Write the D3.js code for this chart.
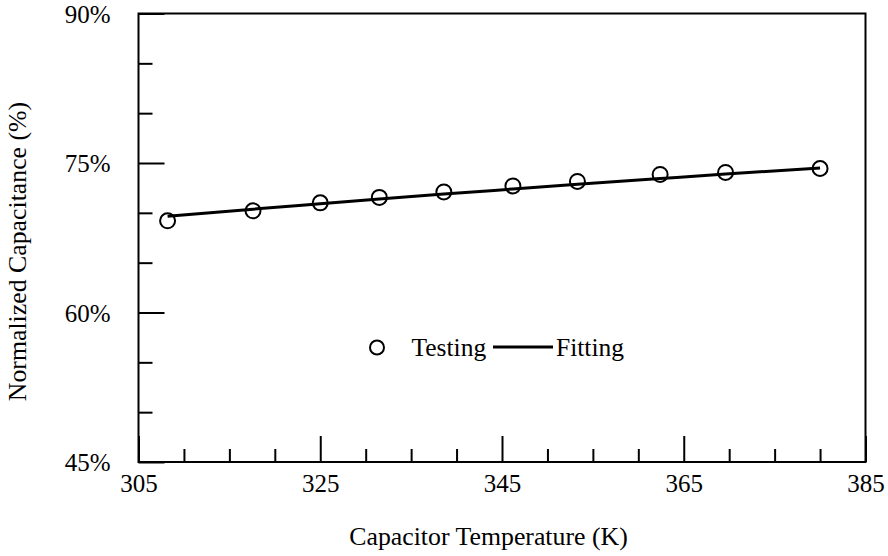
<!DOCTYPE html>
<html>
<head>
<meta charset="utf-8">
<script src="https://cdn.jsdelivr.net/npm/d3@7"></script>
<style>
  html, body { margin: 0; padding: 0; background: #fff; }
  svg text { font-family: "Liberation Serif", "Times New Roman", serif; fill: #000; }
</style>
</head>
<body>
<svg id="chart" width="888" height="556"></svg>
<script>
// ---- data ----
const temperatures = [308.2, 317.6, 325.0, 331.5, 338.6, 346.2, 353.3, 362.4, 369.6, 380.0];
const testingValues = [69.2, 70.2, 71.0, 71.55, 72.1, 72.7, 73.15, 73.85, 74.05, 74.45];
const fittingValues = [69.65, 70.37, 70.91, 71.38, 71.88, 72.39, 72.86, 73.44, 73.89, 74.5];
const xMajorTicks = [305, 325, 345, 365, 385];
const xMinorTicks = [310, 315, 320, 330, 335, 340, 350, 355, 360, 370, 375, 380];
const yMajorTicks = [45, 60, 75, 90];
const yMinorTicks = [50, 55, 65, 70, 80, 85];
const seriesNames = ["Testing", "Fitting"];
const xTitle = "Capacitor Temperature (K)";
const yTitle = "Normalized Capacitance (%)";

// ---- layout ----
const L = 138.5, R = 865.5, T = 13.5, B = 462;
const svg = d3.select("#chart");
const x = d3.scaleLinear().domain([305, 385]).range([L, R]);
const y = d3.scaleLinear().domain([45, 90]).range([B, T]);
const fs = 25;

// frame
svg.append("rect").attr("x", L).attr("y", T).attr("width", R - L).attr("height", B - T)
  .attr("fill", "none").attr("stroke", "#000").attr("stroke-width", 2);

function styleAxis(g) {
  g.select(".domain").remove();
  g.selectAll(".tick line").attr("stroke", "#000").attr("stroke-width", 2);
  g.selectAll(".tick text").style("font-size", fs + "px").style("font-family", '"Liberation Serif", serif');
}

// x axis minor
svg.append("g").attr("transform", `translate(0,${B})`)
  .call(d3.axisBottom(x).tickValues(xMinorTicks).tickSize(-13).tickFormat(""))
  .call(styleAxis);
// x axis major
svg.append("g").attr("transform", `translate(0,${B})`)
  .call(d3.axisBottom(x).tickValues(xMajorTicks).tickSize(-26).tickFormat(d3.format("d")))
  .call(styleAxis)
  .call(g => g.selectAll(".tick text").attr("dy", "0.71em").attr("y", 12));

// y axis minor
svg.append("g").attr("transform", `translate(${L},0)`)
  .call(d3.axisLeft(y).tickValues(yMinorTicks).tickSize(-14).tickFormat(""))
  .call(styleAxis);
// y axis major
svg.append("g").attr("transform", `translate(${L},0)`)
  .call(d3.axisLeft(y).tickValues(yMajorTicks).tickSize(-26).tickFormat(d => d + "%"))
  .call(styleAxis)
  .call(g => g.selectAll(".tick text").attr("x", -28).attr("dy", "0.35em"));

// fitting line
svg.append("path")
  .datum(temperatures.map((t, i) => [t, fittingValues[i]]))
  .attr("fill", "none").attr("stroke", "#000").attr("stroke-width", 3)
  .attr("stroke-linejoin", "round")
  .attr("d", d3.line().x(d => x(d[0])).y(d => y(d[1])).curve(d3.curveMonotoneX));

// testing points
svg.append("g").selectAll("circle")
  .data(temperatures.map((t, i) => [t, testingValues[i]]))
  .join("circle")
  .attr("cx", d => x(d[0])).attr("cy", d => y(d[1])).attr("r", 7.5)
  .attr("fill", "none").attr("stroke", "#000").attr("stroke-width", 2);

// legend
const leg = svg.append("g");
leg.append("circle").attr("cx", 377).attr("cy", 347.5).attr("r", 7)
  .attr("fill", "none").attr("stroke", "#000").attr("stroke-width", 2);
leg.append("text").attr("x", 411.5).attr("y", 356).style("font-size", "25.5px").text(seriesNames[0]);
leg.append("line").attr("x1", 493).attr("x2", 553).attr("y1", 347).attr("y2", 347)
  .attr("stroke", "#000").attr("stroke-width", 3);
leg.append("text").attr("x", 556).attr("y", 356).style("font-size", "25.5px").text(seriesNames[1]);

// axis titles
svg.append("text").attr("x", 488.5).attr("y", 545).attr("text-anchor", "middle")
  .style("font-size", "25.8px").text(xTitle);
svg.append("text").attr("transform", "translate(26,251.5) rotate(-90)").attr("text-anchor", "middle")
  .style("font-size", "25.8px").text(yTitle);
</script>
</body>
</html>
